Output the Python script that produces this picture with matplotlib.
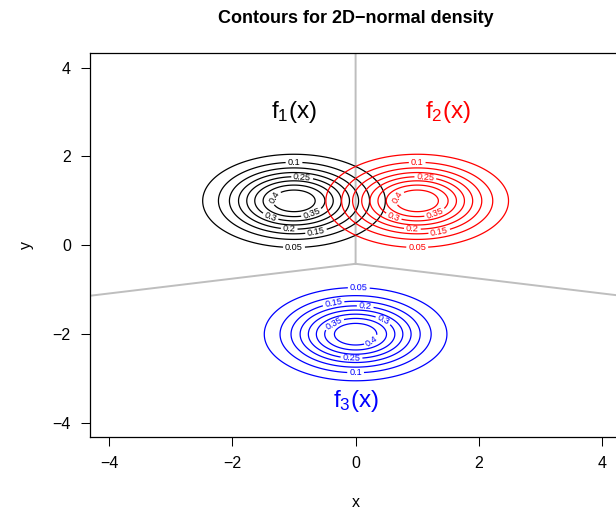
import numpy as np
import matplotlib
matplotlib.use("Agg")
import matplotlib.pyplot as plt

plt.rcParams['font.family'] = ['Liberation Sans', 'DejaVu Sans']
plt.rcParams['mathtext.fontset'] = 'custom'
plt.rcParams['mathtext.rm'] = 'Liberation Sans'
plt.rcParams['mathtext.it'] = 'Liberation Sans'

# three bivariate normals sharing one diagonal covariance
mu_x = [-1.0, 1.0, 0.0]
mu_y = [1.0, 1.0, -2.0]
var_x = 0.5
var_y = 0.25
levels = [0.05, 0.1, 0.15, 0.2, 0.25, 0.3, 0.35, 0.4]
colors = ['black', 'red', 'blue']
names = [r'$\mathrm{f_1(x)}$', r'$\mathrm{f_2(x)}$', r'$\mathrm{f_3(x)}$']
name_x = [-1.0, 1.5, 0.0]
name_y = [3.0, 3.0, -3.5]

# where each contour label sits along its ellipse (parametric angle, degrees)
label_angles = [
    [-90, 90, -70, -95, 80, 233, -55, 160],
    [-90, 90, -70, -95, 80, 233, -55, 160],
    [88, -90, 110, 80, -95, 45, 135, -40],
]

lim = 4.32
sx, sy = np.sqrt(var_x), np.sqrt(var_y)
peak = 1.0 / (2 * np.pi * sx * sy)


def density(X, Y, mx, my):
    q = (X - mx) ** 2 / var_x + (Y - my) ** 2 / var_y
    return peak * np.exp(-0.5 * q)


fig = plt.figure(figsize=(6.16, 5.11), dpi=100)
ax = fig.add_axes([89.5 / 616, 73.7 / 511, 532.2 / 616, 384 / 511])

gx = np.linspace(-lim, lim, 500)
gy = np.linspace(-lim, lim, 500)
X, Y = np.meshgrid(gx, gy)

for k in range(3):
    Z = density(X, Y, mu_x[k], mu_y[k])
    cs = ax.contour(X, Y, Z, levels=levels, colors=colors[k], linewidths=0.9)
    pts = []
    for c, ang in zip(levels, label_angles[k]):
        r = np.sqrt(2 * np.log(peak / c))
        t = np.deg2rad(ang)
        pts.append((mu_x[k] + sx * r * np.cos(t), mu_y[k] + sy * r * np.sin(t)))
    ax.clabel(cs, manual=pts, inline=True, inline_spacing=2, fontsize=6.6,
              fmt=lambda v: f'{v:g}')
    ax.text(name_x[k], name_y[k], names[k], color=colors[k], fontsize=17.5,
            ha='center', va='center')

# linear discriminant boundaries between the three densities
inv = np.array([1 / var_x, 1 / var_y])
means = np.column_stack([mu_x, mu_y])
g_const = -0.5 * np.sum(means ** 2 * inv, axis=1)
for i in range(3):
    for j in range(i + 1, 3):
        w = inv * (means[i] - means[j])
        b = g_const[j] - g_const[i]
        p0 = w * b / np.dot(w, w)
        d = np.array([-w[1], w[0]]) / np.linalg.norm(w)
        t = np.linspace(-20, 20, 8001)
        P = p0[None, :] + t[:, None] * d[None, :]
        g = P @ (means * inv).T + g_const
        keep = g[:, i] >= g.max(axis=1) - 1e-9
        ax.plot(P[keep, 0], P[keep, 1], color='#BEBEBE', lw=1.4, zorder=0)

ax.set_xlim(-lim, lim)
ax.set_ylim(-lim, lim)
ax.set_xticks([-4, -2, 0, 2, 4])
ax.set_yticks([-4, -2, 0, 2, 4])
ax.set_xticklabels(['\u22124', '\u22122', '0', '2', '4'])
ax.set_yticklabels(['\u22124', '\u22122', '0', '2', '4'])
ax.tick_params(direction='out', length=6.5, width=0.75, labelsize=11.5, pad=7)
for s in ax.spines.values():
    s.set_linewidth(0.9)

ax.set_xlabel('x', fontsize=11.5, labelpad=17)
ax.set_ylabel('y', fontsize=11.5, labelpad=13)
ax.set_title('Contours for 2D\u2212normal density', fontsize=13,
             fontweight='bold', pad=22)

fig.savefig('out.png', dpi=100)
